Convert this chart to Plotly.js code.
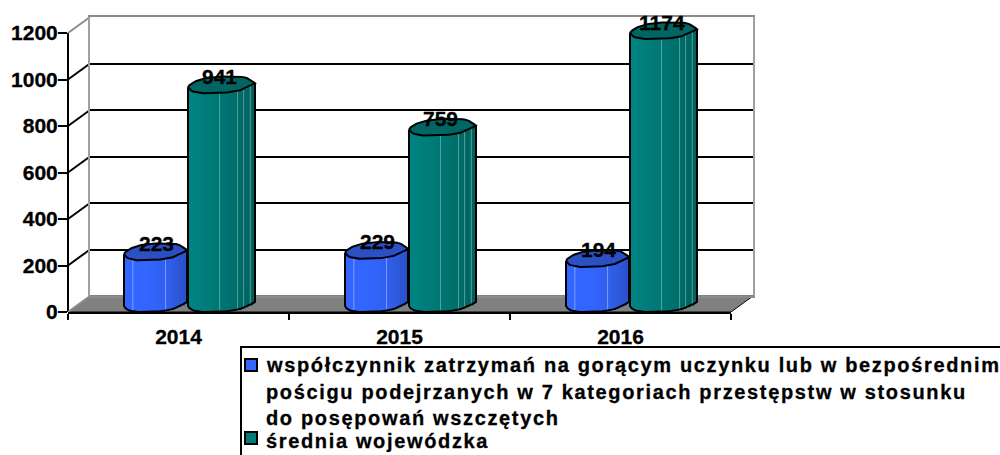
<!DOCTYPE html>
<html><head><meta charset="utf-8">
<script src="https://cdn.plot.ly/plotly-3.0.1.min.js"></script>
<style>
html,body{margin:0;padding:0;background:#fff;overflow:hidden}
svg text{stroke:#000;stroke-width:.3px}
g.annotation[data-index="6"] text,g.annotation[data-index="7"] text,g.annotation[data-index="8"] text,g.annotation[data-index="9"] text{letter-spacing:1.65px}
</style></head><body><div id="chart" style="width:1000px;height:455px"></div>
<script>
// ---- data ----
const years = ['2014','2015','2016'];
const seriesA = [223,229,194];
const seriesB = [941,759,1174];
const nameA = 'współczynnik zatrzymań na gorącym uczynku lub w bezpośrednim pościgu podejrzanych w 7 kategoriach przestępstw w stosunku do posępowań wszczętych';
const nameB = 'średnia wojewódzka';
const legendLinesA = ['współczynnik zatrzymań na gorącym uczynku lub w bezpośrednim','pościgu podejrzanych w 7 kategoriach przestępstw w stosunku','do posępowań wszczętych'];
const legendLinesB = ['średnia wojewódzka'];
const yTicks = [0,200,400,600,800,1000,1200];

// ---- frame geometry (pixels) ----
const W=1000,H=455, L=68,R=731,B=312,T=33, DX=22,DY=16;
const px=x=>x/W, py=y=>1-y/H;
const catW=(R-L)/3, unit=(B-T)/1200;
const yHead=1300; // headroom above the top tick so the rims are not clipped
const FONT='"Liberation Sans", Arial, sans-serif';

// column look: offset from category centre, width (both in category units)
const colA={off:-54.5/catW,w:63/catW,stops:['#3366ff','#3366ff','#3060ee','#2a50c8'],cap:'#2a50c4',glint:[.14,.66],glintCol:'#7f9cff',labelShift:1};
const colB={off:9.5/catW,w:67/catW,stops:['#008583','#007b78','#00706c','#005f5c'],cap:'#006663',glint:[.47,.74,.83,.93],glintCol:'#4fa39e',labelShift:-2};

// outline of the elliptical rim, px above the value level
const frontT=[0,.02,.06,.18,.45,.62,.78,.92,1], frontP=[6,4,2,0,0,1,3,7,10];
const backT=[1,.94,.85,.6,.33,.15,.06,.02,0], backP=[10,13,16,17,16,13,10,8,6];
function lerp(ts,ps,t){
  for(let i=0;i<ts.length-1;i++){
    const a=ts[i],b=ts[i+1];
    if((t>=a&&t<=b)||(t<=a&&t>=b)){return ps[i]+(ps[i+1]-ps[i])*(t-a)/((b-a)||1);}
  }
  return ps[ps.length-1];
}
function hex(c){return [1,3,5].map(i=>parseInt(c.substr(i,2),16));}
function shade(stops,t){
  const s=t*(stops.length-1),i=Math.min(Math.floor(s),stops.length-2),f=s-i;
  const a=hex(stops[i]),b=hex(stops[i+1]);
  return 'rgb('+a.map((v,k)=>Math.round(v+(b[k]-v)*f)).join(',')+')';
}
const N=16;
function columnTraces(values,col,name){
  const sx=[],sw=[],sb=[],sy=[],sc=[];
  const ox=[],oy=[],cx=[],cy=[],gx=[],gy=[];
  values.forEach((v,c)=>{
    const left=c+col.off;
    for(let i=0;i<N;i++){
      const t=(i+.5)/N, lift=lerp(frontT,frontP,t)/unit;
      const wide=(i<N-1)?1.5:1;
      sx.push(left+i/N*col.w+col.w/N*wide/2);sw.push(col.w/N*wide);sb.push(lift);sy.push(v);sc.push(shade(col.stops,t));
    }
    const ts=[];for(let i=0;i<=40;i++)ts.push(i/40);
    // body outline
    ox.push(left);oy.push(v+frontP[0]/unit);
    ts.forEach(t=>{ox.push(left+t*col.w);oy.push(lerp(frontT,frontP,t)/unit);});
    ox.push(left+col.w);oy.push(v+frontP[frontP.length-1]/unit);ox.push(null);oy.push(null);
    // rim
    ts.forEach(t=>{cx.push(left+t*col.w);cy.push(v+lerp(frontT,frontP,t)/unit);});
    ts.slice().reverse().forEach(t=>{cx.push(left+t*col.w);cy.push(v+lerp(backT,backP,t)/unit);});
    cx.push(left);cy.push(v+frontP[0]/unit);cx.push(null);cy.push(null);
    // highlights
    col.glint.forEach(t=>{
      const l=lerp(frontT,frontP,t)/unit;
      gx.push(left+t*col.w,left+t*col.w,null);gy.push(l,v+l,null);
    });
  });
  const common={xaxis:'x2',yaxis:'y2',hoverinfo:'skip',showlegend:false,cliponaxis:false};
  return [
    {type:'bar',name:name,x:years.map((_,c)=>c+col.off+col.w*.45),y:values,width:.1,marker:{color:col.stops[1]},xaxis:'x2',yaxis:'y2',showlegend:false,cliponaxis:false},
    Object.assign({type:'bar',x:sx,y:sy,base:sb,width:sw,marker:{color:sc,line:{width:0}}},common),
    Object.assign({type:'scatter',mode:'lines',x:gx,y:gy,line:{color:col.glintCol,width:1}},common),
    Object.assign({type:'scatter',mode:'lines',x:ox,y:oy,line:{color:'#000',width:2}},common),
    Object.assign({type:'scatter',mode:'lines',x:cx,y:cy,fill:'toself',fillcolor:col.cap,line:{color:'#000',width:2}},common)
  ];
}
const traces=[
  {type:'scatter',mode:'none',x:[0],y:[0],xaxis:'x',yaxis:'y',hoverinfo:'skip',showlegend:false},
  ...columnTraces(seriesA,colA,nameA),
  ...columnTraces(seriesB,colB,nameB)
];

// ---- frame decoration ----
const shapes=[
  {type:'path',xref:'paper',yref:'paper',layer:'below',line:{color:'#000',width:1},fillcolor:'#808080',
   path:`M${px(L)},${py(B)} L${px(R)},${py(B)} L${px(R+DX)},${py(B-DY)} L${px(L+DX)},${py(B-DY)} Z`},
  {type:'line',xref:'paper',yref:'paper',layer:'below',x0:px(L),x1:px(L),y0:py(B),y1:py(T),line:{color:'#000',width:2}}
];
yTicks.forEach((v,i)=>{
  const y=B-v*unit, edge=(i===0||i===yTicks.length-1);
  shapes.push({type:'line',xref:'paper',yref:'paper',layer:'below',x0:px(L),x1:px(L+DX),y0:py(y),y1:py(y-DY),
    line:{color:edge?'#8c8c8c':'#000',width:2}});
});
// legend frame and keys
const keyRows=[365,438];
shapes.push({type:'rect',xref:'paper',yref:'paper',layer:'above',x0:px(241),x1:px(1010),y0:py(347),y1:py(465),line:{color:'#000',width:2},fillcolor:'rgba(0,0,0,0)'});
keyRows.forEach((y,i)=>{
  shapes.push({type:'rect',xref:'paper',yref:'paper',layer:'above',x0:px(245),x1:px(257),y0:py(y-6),y1:py(y+6),
    line:{color:'#000',width:2},fillcolor:[colA.stops[0],colB.stops[1]][i]});
});

// value labels
const annotations=[];
[[seriesA,colA],[seriesB,colB]].forEach(([vals,col])=>{
  vals.forEach((v,c)=>annotations.push({xref:'x2',yref:'y2',x:c+col.off+col.w/2,y:v,xshift:col.labelShift,yshift:17,text:String(v),showarrow:false,
    xanchor:'center',yanchor:'middle',font:{family:FONT,size:21,color:'#000',weight:700}}));
});
const legendRows=[[legendLinesA[0],365],[legendLinesA[1],392],[legendLinesA[2],418],[legendLinesB[0],441]];
legendRows.forEach(([s,y])=>annotations.push({xref:'paper',yref:'paper',x:px(265),y:py(y),text:s,showarrow:false,
  xanchor:'left',yanchor:'middle',align:'left',borderpad:0,font:{family:FONT,size:20,color:'#000',weight:700}}));

const layout={
  width:W,height:H,margin:{l:0,r:0,t:0,b:0},paper_bgcolor:'#fff',plot_bgcolor:'rgba(0,0,0,0)',
  barmode:'overlay',showlegend:false,font:{family:FONT,color:'#000'},
  // back wall
  xaxis:{domain:[px(L+DX),px(R+DX)],range:[0,1],anchor:'y',showgrid:false,zeroline:false,ticks:'',showticklabels:false,
    showline:true,mirror:true,linecolor:'#8c8c8c',linewidth:2},
  yaxis:{domain:[py(B-DY),py(T-DY)],range:[0,1200],anchor:'x',tickvals:yTicks,showticklabels:false,ticks:'',zeroline:false,
    showgrid:true,gridcolor:'#000',gridwidth:2,showline:true,mirror:true,linecolor:'#a0a0a0',linewidth:2},
  // front plane
  xaxis2:{domain:[px(L),px(R)],range:[-.5,2.5],anchor:'y2',tickvals:[0,1,2],ticktext:years,ticks:'',showgrid:false,zeroline:false,
    showline:true,linecolor:'#000',linewidth:2,ticklabelstandoff:5,tickfont:{family:FONT,size:21,color:'#000',weight:700},
    minor:{tickvals:[-.5,.5,1.5,2.5],ticks:'outside',ticklen:6,tickwidth:2,tickcolor:'#000',showgrid:false}},
  yaxis2:{domain:[py(B),py(B-yHead*unit)],range:[0,yHead],anchor:'x2',tickvals:yTicks,ticks:'outside',ticklen:9,tickwidth:2,tickcolor:'#000',
    showgrid:false,zeroline:false,showline:false,ticklabelstandoff:-4,tickfont:{family:FONT,size:21,color:'#000',weight:700}},
  shapes,annotations
};
Plotly.newPlot('chart',traces,layout,{displayModeBar:false,staticPlot:true});
</script></body></html>
